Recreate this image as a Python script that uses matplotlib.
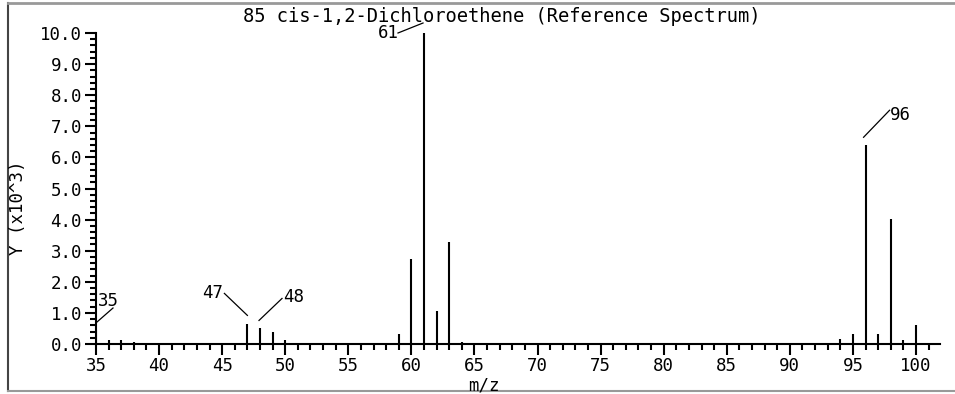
import matplotlib
matplotlib.use("Agg")
import matplotlib.pyplot as plt
from matplotlib.ticker import MultipleLocator, FormatStrFormatter
from matplotlib.lines import Line2D

# spectrum data (m/z, intensity x10^3)
mz = [35, 36, 37, 38, 47, 48, 49, 50, 59, 60, 61, 62, 63, 64,
      94, 95, 96, 97, 98, 99, 100]
inten = [0.45, 0.13, 0.13, 0.07, 0.63, 0.50, 0.38, 0.13, 0.32, 2.72, 10.0, 1.07, 3.28, 0.07,
         0.15, 0.32, 6.39, 0.32, 4.02, 0.14, 0.62]

labeled = [35, 47, 61, 48, 96]

title = "85 cis-1,2-Dichloroethene (Reference Spectrum)"

W, H = 955, 394
fnt = "DejaVu Sans Mono"
fs = 12.5

fig = plt.figure(figsize=(W / 100, H / 100), dpi=100)
ax = fig.add_axes([96 / W, (H - 344) / H, (940 - 96) / W, (344 - 33) / H])

ax.vlines(mz, 0, inten, colors="black", lw=1.5)

ax.set_xlim(35, 101.9)
ax.set_ylim(0, 10)
for s in ["top", "right"]:
    ax.spines[s].set_visible(False)
for s in ["left", "bottom"]:
    ax.spines[s].set_linewidth(1.5)

ax.xaxis.set_major_locator(MultipleLocator(5))
ax.xaxis.set_minor_locator(MultipleLocator(1))
ax.yaxis.set_major_locator(MultipleLocator(1))
ax.yaxis.set_minor_locator(MultipleLocator(0.2))
ax.yaxis.set_major_formatter(FormatStrFormatter("%.1f"))
ax.tick_params(which="major", length=8, width=1.5, labelsize=fs, pad=2)
ax.tick_params(axis="x", which="major", pad=1.5)
ax.tick_params(which="minor", length=4.5, width=1.5)
for lb in ax.get_xticklabels() + ax.get_yticklabels():
    lb.set_family(fnt)

fig.text(502 / W, 1 - 16 / H, title, ha="center", va="center", family=fnt, fontsize=13.5)
fig.text(18 / W, 1 - 208 / H, "Y (x10^3)", ha="center", va="center", rotation=90,
         family=fnt, fontsize=fs)
fig.text(484 / W, 1 - 385 / H, "m/z", ha="center", va="center", family=fnt, fontsize=fs)

# leader lines + labels, offsets in pixels from the peak top (y up)
offs = {
    35: ((1, 8), (17, 22), (12, 29)),
    47: ((0, 9), (-23, 31), (-35, 31)),
    48: ((-1, 8), (22, 30), (34, 31)),
    61: ((-1, 10), (-26, 0), (-36, 0)),
    96: ((-2, 8), (24, 35), (35, 30)),
}
fig.canvas.draw()
for m in labeled:
    v = inten[mz.index(m)]
    px, py = ax.transData.transform((m, v))
    p0, p1, t = offs[m]
    fig.add_artist(Line2D([px + p0[0], px + p1[0]], [py + p0[1], py + p1[1]],
                          transform=None, color="black", lw=0.9))
    fig.text(px + t[0], py + t[1], str(m), transform=None, ha="center", va="center",
             family=fnt, fontsize=fs)

# outer frame
fig.add_artist(Line2D([8, 8], [H - 391, H - 3], transform=None, color="#444444", lw=1.5))
fig.add_artist(Line2D([8, W], [H - 2.5, H - 2.5], transform=None, color="#999999", lw=2))
fig.add_artist(Line2D([8, W], [H - 391, H - 391], transform=None, color="#999999", lw=1.5))

fig.savefig("out.png", dpi=100)
